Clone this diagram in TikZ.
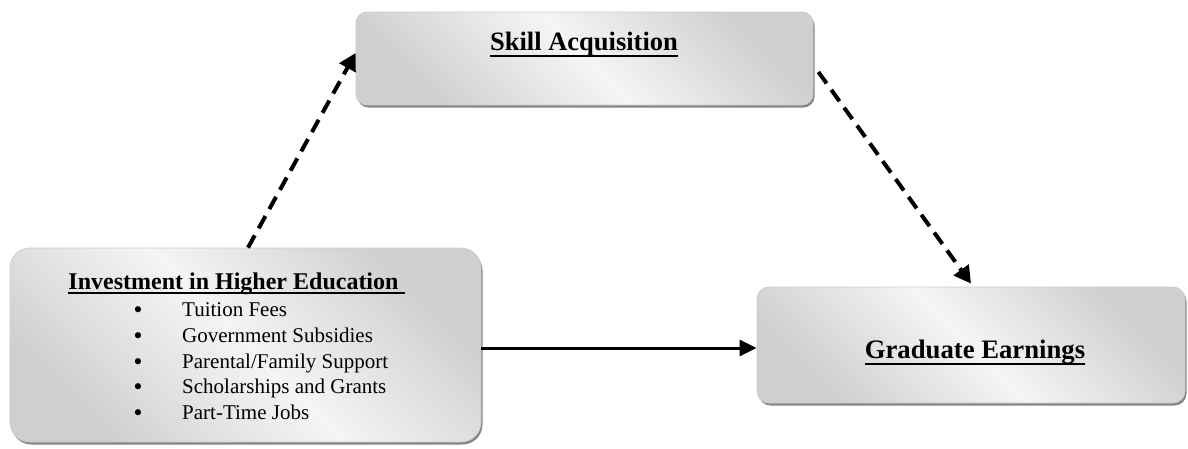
\documentclass[tikz,border=0pt]{standalone}
\usepackage{fontspec}
\setmainfont{Liberation Serif}
\newfontfamily\bulfont{DejaVu Sans}
\usetikzlibrary{shadows,arrows.meta}
\newcommand\myul[2][6pt]{\setbox0\hbox{#2}\rlap{\rule[-#1]{\wd0}{2.3pt}}\box0}
\begin{document}
\begin{tikzpicture}[x=1pt,y=-1pt,
  box/.style={draw=black!20, line width=0.8pt, top color=black!19, bottom color=black!19, middle color=black!4, shading angle=-45,
    drop shadow={shadow xshift=1.5pt, shadow yshift=-2.5pt, fill=black!60, opacity=0.8}, inner sep=0pt},
  dasharrow/.style={line width=4pt, dash pattern=on 14pt off 8pt, -{Triangle[length=17pt,width=18pt]}},
  solidarrow/.style={line width=3pt, -{Triangle[length=17pt,width=16pt]}},
  txt/.style={inner sep=0pt, anchor=base},
  itm/.style={inner sep=0pt, anchor=base west, font=\fontsize{21}{25}\selectfont},
  bul/.style={inner sep=0pt, anchor=base, font=\bulfont\fontsize{21}{21}\selectfont},
]
\useasboundingbox (0,0) rectangle (1188,448);

\node[box, rounded corners=11pt, minimum width=457pt, minimum height=93pt] (skill) at (584.5,58.5) {};
\node[box, rounded corners=20pt, minimum width=471pt, minimum height=194pt] (inv) at (245.5,345) {};
\node[box, rounded corners=12pt, minimum width=428pt, minimum height=116pt] (grad) at (971,345) {};

\node[txt, font=\fontsize{26.5}{30}\selectfont\bfseries] (skilllbl) at (584,50) {\myul[7pt]{Skill Acquisition}};
\node[txt, font=\fontsize{24}{28}\selectfont\bfseries] (invlbl) at (236.5,289) {\myul[5pt]{Investment in Higher Education\ }};
\node[txt, font=\fontsize{26.7}{30}\selectfont\bfseries] (gradlbl) at (975,358) {\myul[7pt]{Graduate Earnings}};

\node[bul] (b1) at (138,317.5) {•};
\node[bul] (b2) at (138,343.5) {•};
\node[bul] (b3) at (138,369.5) {•};
\node[bul] (b4) at (138,394.5) {•};
\node[bul] (b5) at (138,420.5) {•};
\node[itm] (i1) at (182,316) {Tuition Fees};
\node[itm] (i2) at (182,342) {Government Subsidies};
\node[itm] (i3) at (182,368) {Parental/Family Support};
\node[itm] (i4) at (182,393) {Scholarships and Grants};
\node[itm] (i5) at (182,419) {Part-Time Jobs};

\draw[dasharrow] ([xshift=2.5pt]inv.north) -- ([yshift=5.5pt]skill.west);
\draw[dasharrow] ([xshift=5pt,yshift=-13.5pt]skill.east) -- ([yshift=3pt]grad.north);
\draw[solidarrow] ([yshift=-3pt]inv.east) -- ([yshift=-3pt]grad.west);
\end{tikzpicture}
\end{document}
